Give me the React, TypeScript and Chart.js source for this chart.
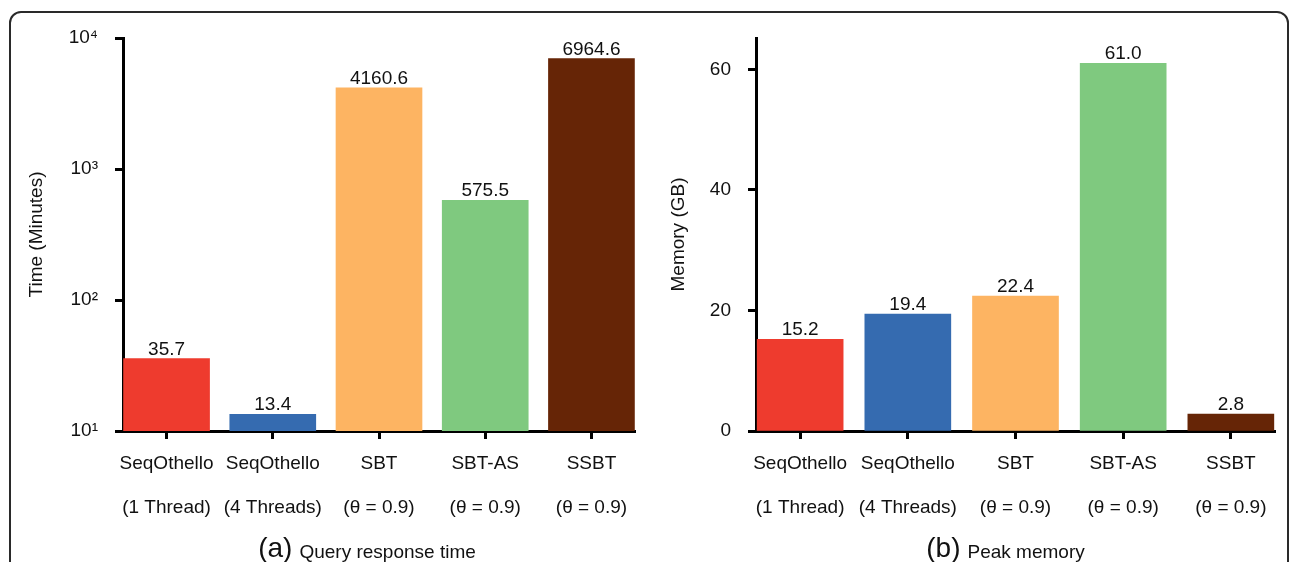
import React, { useEffect, useRef } from 'react';
import { Chart, registerables } from 'chart.js';

Chart.register(...registerables);

const FONT = '"Liberation Sans", Arial, Helvetica, sans-serif';

const categoriesLine1 = ['SeqOthello', 'SeqOthello', 'SBT', 'SBT-AS', 'SSBT'];
const categoriesLine2 = ['(1 Thread)', '(4 Threads)', '(θ = 0.9)', '(θ = 0.9)', '(θ = 0.9)'];
const categoryIndex = [0, 1, 2, 3, 4];

const timeMinutes = [35.7, 13.4, 4160.6, 575.5, 6964.6];
const memoryGB = [15.2, 19.4, 22.4, 61.0, 2.8];

const barColors = ['#EE3B2E', '#356BB0', '#FDB462', '#7FC97F', '#662506'];

const timeTicks = [10, 100, 1000, 10000];
const timeTickLabels = ['10¹', '10²', '10³', '10⁴'];
const memoryTicks = [0, 20, 40, 60];

const X_MIN = -0.41;
const X_MAX = 4.41;

type PanelSpec = {
  values: number[];
  yType: 'logarithmic' | 'linear';
  yMin: number;
  yMax: number;
  yTicks: number[];
  yTickLabel: (v: number) => string;
  yTitle: string;
  yAxisWidth: number;
  yTitlePad: number;
  padRight: number;
  subLetter: string;
  subText: string;
  subShift: number;
};

function makeConfig(spec: PanelSpec): any {
  const valueLabels = {
    id: 'valueLabels',
    afterDatasetsDraw(chart: any) {
      const ctx = chart.ctx;
      const meta = chart.getDatasetMeta(0);
      ctx.save();
      ctx.fillStyle = '#111';
      ctx.font = `19px ${FONT}`;
      ctx.textAlign = 'center';
      ctx.textBaseline = 'alphabetic';
      meta.data.forEach((el: any, i: number) => {
        ctx.fillText(spec.values[i].toFixed(1), el.x, el.y - 4);
      });
      ctx.restore();
    },
  };
  const subtitle = {
    id: 'subtitle',
    afterDraw(chart: any) {
      const ctx = chart.ctx;
      const ca = chart.chartArea;
      ctx.save();
      ctx.fillStyle = '#111';
      ctx.textBaseline = 'alphabetic';
      ctx.textAlign = 'left';
      ctx.font = `28px ${FONT}`;
      const w1 = ctx.measureText(spec.subLetter).width;
      ctx.font = `19px ${FONT}`;
      const gap = 7;
      const w2 = ctx.measureText(spec.subText).width;
      const total = w1 + gap + w2;
      const cx = (ca.left + ca.right) / 2 + spec.subShift;
      const x0 = cx - total / 2;
      ctx.font = `28px ${FONT}`;
      ctx.fillText(spec.subLetter, x0, 557);
      ctx.font = `19px ${FONT}`;
      ctx.fillText(spec.subText, x0 + w1 + gap, 558);
      ctx.restore();
    },
  };

  return {
    type: 'bar',
    data: {
      datasets: [
        {
          data: categoryIndex.map((i) => ({ x: i, y: spec.values[i] })),
          backgroundColor: barColors,
          borderWidth: 0,
          barThickness: 86,
        },
      ],
    },
    options: {
      animation: false,
      responsive: false,
      maintainAspectRatio: false,
      layout: { padding: { left: 0, top: 38, right: spec.padRight, bottom: 0 } },
      plugins: { legend: { display: false }, tooltip: { enabled: false } },
      scales: {
        x: {
          type: 'linear',
          min: X_MIN,
          max: X_MAX,
          bounds: 'data',
          offset: false,
          afterBuildTicks: (scale: any) => {
            scale.ticks = categoryIndex.map((v) => ({ value: v }));
            scale.min = X_MIN;
            scale.max = X_MAX;
          },
          afterFit: (scale: any) => {
            scale.height = 131;
          },
          border: { display: true, color: '#000', width: 3 },
          grid: {
            display: true,
            offset: false,
            drawOnChartArea: false,
            drawTicks: true,
            tickLength: 8,
            tickWidth: 3,
            tickColor: '#000',
            color: '#000',
          },
          ticks: {
            autoSkip: false,
            maxRotation: 0,
            minRotation: 0,
            padding: 3,
            color: '#111',
            font: { family: FONT, size: 19, lineHeight: 44 / 19 },
            callback: (v: number) => {
              const i = Math.round(v);
              return [categoriesLine1[i], categoriesLine2[i]];
            },
          },
        },
        y: {
          type: spec.yType,
          min: spec.yMin,
          max: spec.yMax,
          afterBuildTicks: (scale: any) => {
            scale.ticks = spec.yTicks.map((v) => ({ value: v }));
          },
          afterFit: (scale: any) => {
            scale.width = spec.yAxisWidth;
          },
          border: { display: true, color: '#000', width: 3 },
          grid: {
            display: true,
            drawOnChartArea: false,
            drawTicks: true,
            tickLength: 8,
            tickWidth: 3,
            tickColor: '#000',
            color: '#000',
          },
          ticks: {
            padding: 17,
            color: '#111',
            font: { family: FONT, size: 19 },
            callback: (v: number) => spec.yTickLabel(v),
          },
          title: {
            display: true,
            text: spec.yTitle,
            color: '#111',
            font: { family: FONT, size: 19 },
            padding: { top: spec.yTitlePad, bottom: 0 },
          },
        },
      },
    },
    plugins: [valueLabels, subtitle],
  };
}

const leftSpec: PanelSpec = {
  values: timeMinutes,
  yType: 'logarithmic',
  yMin: 10,
  yMax: 10000,
  yTicks: timeTicks,
  yTickLabel: (v) => timeTickLabels[timeTicks.indexOf(v)] ?? '',
  yTitle: 'Time (Minutes)',
  yAxisWidth: 123,
  yTitlePad: 25.6,
  padRight: 10,
  subLetter: '(a)',
  subText: 'Query response time',
  subShift: -12,
};

const rightSpec: PanelSpec = {
  values: memoryGB,
  yType: 'linear',
  yMin: 0,
  yMax: 65.2,
  yTicks: memoryTicks,
  yTickLabel: (v) => String(v),
  yTitle: 'Memory (GB)',
  yAxisWidth: 111,
  yTitlePad: 22.6,
  padRight: 20,
  subLetter: '(b)',
  subText: 'Peak memory',
  subShift: -10,
};

function Panel({ spec, left, width }: { spec: PanelSpec; left: number; width: number }) {
  const ref = useRef<HTMLCanvasElement | null>(null);
  useEffect(() => {
    if (!ref.current) return;
    const chart = new Chart(ref.current, makeConfig(spec));
    return () => chart.destroy();
  }, [spec]);
  return (
    <canvas
      ref={ref}
      width={width}
      height={562}
      style={{ position: 'absolute', left, top: 0, width, height: 562 }}
    />
  );
}

export default function App() {
  return (
    <div
      style={{
        position: 'absolute',
        left: 0,
        top: 0,
        width: 1295,
        height: 562,
        overflow: 'hidden',
        background: '#fff',
      }}
    >
      <div
        style={{
          position: 'absolute',
          left: 9,
          top: 11,
          width: 1276,
          height: 620,
          border: '2px solid #2a2a2a',
          borderRadius: 12,
        }}
      />
      <Panel spec={leftSpec} left={0} width={645} />
      <Panel spec={rightSpec} left={645} width={650} />
    </div>
  );
}
